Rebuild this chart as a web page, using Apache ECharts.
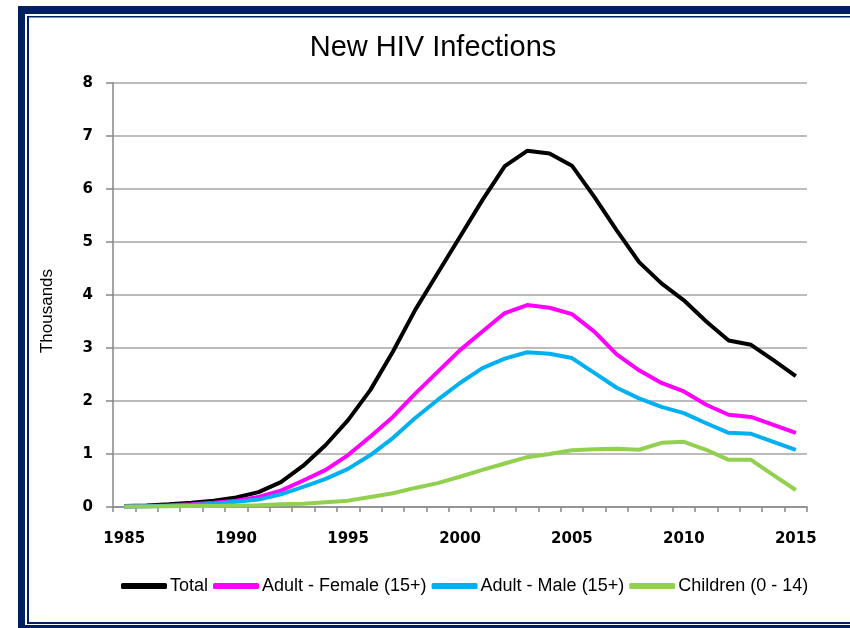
<!DOCTYPE html>
<html>
<head>
<meta charset="utf-8">
<script src="https://cdn.jsdelivr.net/npm/echarts@6/dist/echarts.min.js"></script>
<style>
  html, body { margin: 0; padding: 0; background: #fff; }
  #chart { width: 850px; height: 628px; }
</style>
</head>
<body>
<div id="chart"></div>
<script>
const years = [];
for (let y = 1985; y <= 2015; y++) years.push(String(y));

const total = [0.02, 0.03, 0.05, 0.08, 0.12, 0.18, 0.28, 0.47, 0.78, 1.17, 1.64, 2.21, 2.93, 3.72, 4.41, 5.1,
  5.79, 6.43, 6.72, 6.67, 6.44, 5.85, 5.22, 4.62, 4.22, 3.9, 3.5, 3.14, 3.06, 2.77, 2.47];
const female = [0.01, 0.02, 0.03, 0.05, 0.08, 0.12, 0.19, 0.31, 0.5, 0.7, 0.98, 1.33, 1.7, 2.14, 2.55, 2.96,
  3.31, 3.66, 3.81, 3.76, 3.64, 3.31, 2.88, 2.58, 2.34, 2.18, 1.93, 1.74, 1.7, 1.55, 1.4];
const male = [0.01, 0.015, 0.025, 0.04, 0.06, 0.1, 0.14, 0.24, 0.38, 0.53, 0.72, 0.98, 1.3, 1.68, 2.02, 2.34,
  2.62, 2.8, 2.92, 2.89, 2.81, 2.53, 2.25, 2.05, 1.89, 1.77, 1.58, 1.4, 1.38, 1.23, 1.08];
const children = [0.01, 0.01, 0.015, 0.02, 0.02, 0.03, 0.035, 0.05, 0.06, 0.09, 0.12, 0.19, 0.26, 0.36, 0.45, 0.57,
  0.7, 0.82, 0.94, 1.0, 1.07, 1.09, 1.1, 1.08, 1.21, 1.23, 1.08, 0.89, 0.89, 0.6, 0.32];

const seriesNames = ['Total', 'Adult - Female (15+)', 'Adult - Male (15+)', 'Children (0 - 14)'];
const seriesColors = ['#000000', '#ff00ff', '#00b0f0', '#92d050'];
const seriesData = [total, female, male, children];

const navy = '#002060';
const sans = '"Liberation Sans", Arial, sans-serif';

const chart = echarts.init(document.getElementById('chart'));
chart.setOption({
  animation: false,
  backgroundColor: '#fff',
  title: {
    text: 'New HIV Infections',
    left: 428,
    textAlign: 'center',
    top: 28,
    textStyle: { fontFamily: sans, fontSize: 29, fontWeight: 'normal', color: '#000' }
  },
  legend: {
    left: 116,
    top: 572,
    itemGap: 5,
    itemWidth: 46,
    itemHeight: 6,
    icon: 'roundRect',
    data: seriesNames,
    textStyle: { fontFamily: sans, fontSize: 18, color: '#000', padding: [0, 0, 0, -2] }
  },
  grid: { left: 113, right: 43, top: 83, bottom: 121 },
  xAxis: {
    type: 'category',
    data: years,
    boundaryGap: true,
    axisLine: { lineStyle: { color: '#868686', width: 1.5 } },
    axisTick: { show: true, interval: 0, length: 5, lineStyle: { color: '#868686', width: 1.5 } },
    axisLabel: {
      interval: 4,
      margin: 25,
      fontFamily: '"DejaVu Sans", sans-serif',
      fontWeight: 'bold',
      fontSize: 15,
      color: '#000'
    },
    splitLine: { show: false }
  },
  yAxis: {
    type: 'value',
    min: 0,
    max: 8,
    interval: 1,
    name: 'Thousands',
    nameLocation: 'middle',
    nameGap: 57,
    nameRotate: 90,
    nameTextStyle: { fontFamily: sans, fontSize: 17, color: '#000', padding: [0, 32, 0, 0] },
    axisLine: { show: true, lineStyle: { color: '#868686', width: 1.5 } },
    axisTick: { show: true, length: 7, lineStyle: { color: '#868686', width: 1.5 } },
    axisLabel: {
      margin: 20,
      fontFamily: '"DejaVu Sans", sans-serif',
      fontWeight: 'bold',
      fontSize: 15,
      color: '#000'
    },
    splitLine: { lineStyle: { color: '#a6a6a6', width: 1.5 } }
  },
  series: seriesNames.map((name, i) => ({
    name: name,
    type: 'line',
    data: seriesData[i],
    symbol: 'none',
    color: seriesColors[i],
    lineStyle: { width: 4, color: seriesColors[i], join: 'round' }
  })),
  graphic: [
    { type: 'rect', shape: { x: 18, y: 6, width: 832, height: 8 }, style: { fill: navy }, silent: true },
    { type: 'rect', shape: { x: 18, y: 6, width: 7, height: 622 }, style: { fill: navy }, silent: true },
    { type: 'rect', shape: { x: 27, y: 16, width: 823, height: 1.5 }, style: { fill: navy }, silent: true },
    { type: 'rect', shape: { x: 27, y: 16, width: 2, height: 608 }, style: { fill: navy }, silent: true },
    { type: 'rect', shape: { x: 27, y: 622, width: 823, height: 2 }, style: { fill: navy }, silent: true },
    { type: 'rect', shape: { x: 18, y: 625, width: 832, height: 3 }, style: { fill: navy }, silent: true }
  ]
});
</script>
</body>
</html>
